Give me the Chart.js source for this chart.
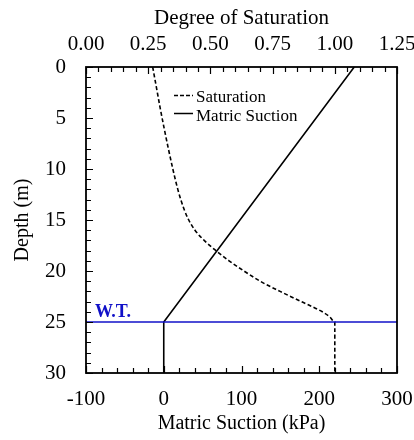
<!DOCTYPE html>
<html><head><meta charset="utf-8">
<script src="https://cdn.jsdelivr.net/npm/chart.js@4/dist/chart.umd.min.js"></script>
<style>html,body{margin:0;padding:0;background:#fff}#wrap{width:414px;height:440px}</style>
</head><body><div id="wrap"><canvas id="c" width="414" height="440"></canvas></div>
<script>
// ---- data ----
const depthSaturation = [0, 2, 4, 6, 8, 10, 12, 13, 14, 15, 16, 17, 18, 19, 20, 21, 22, 23, 24, 24.5, 25, 30];
const saturation      = [0.268, 0.283, 0.298, 0.314, 0.331, 0.349, 0.369, 0.381, 0.395, 0.413, 0.438, 0.475, 0.522, 0.575, 0.635, 0.70, 0.78, 0.865, 0.95, 0.98, 1.0, 1.0];
const depthSuction = [0, 25, 30];
const suction      = [245, 0, 0];
const waterTableDepth = 25;
const waterTableSpan = [-100, 300];
const suctionTicks    = [-100, 0, 100, 200, 300];
const saturationTicks = [0, 0.25, 0.5, 0.75, 1.0, 1.25];
const depthTicks      = [0, 5, 10, 15, 20, 25, 30];
const seriesNames = ['Saturation', 'Matric Suction'];
const waterTableLabel = 'W.T.';

const FONT = "'Liberation Serif', 'Times New Roman', serif";
Chart.defaults.font.family = FONT;
Chart.defaults.color = '#000';

const toPts = (xs, ys) => xs.map((x, i) => ({x: x, y: ys[i]}));

const decor = {
  id: 'decor',
  afterDatasetsDraw(chart) {
    const ctx = chart.ctx, a = chart.chartArea;
    const sx = chart.scales.x, st = chart.scales.x2, sy = chart.scales.y;
    ctx.save();
    ctx.strokeStyle = '#000';
    ctx.lineWidth = 1.2;
    const tick = (fn, min, max, step, majors) => {
      for (let v = min; v <= max + 1e-9; v += step) {
        const isMajor = majors.some(m => Math.abs(m - v) < 1e-6);
        fn(v, isMajor ? 7 : 5);
      }
    };
    ctx.beginPath();
    tick((v, L) => { const p = Math.round(sx.getPixelForValue(v)) + 0.5; ctx.moveTo(p, a.bottom); ctx.lineTo(p, a.bottom - L); }, -100, 300, 20, suctionTicks);
    tick((v, L) => { const p = Math.round(st.getPixelForValue(v)) + 0.5; ctx.moveTo(p, a.top); ctx.lineTo(p, a.top + L); }, 0, 1.25, 0.05, saturationTicks);
    tick((v, L) => { const p = Math.round(sy.getPixelForValue(v)) + 0.5; ctx.moveTo(a.left, p); ctx.lineTo(a.left + L, p); }, 0, 30, 1, depthTicks);
    ctx.stroke();
    ctx.lineWidth = 1.8;
    ctx.strokeRect(a.left, a.top, a.right - a.left, a.bottom - a.top);
    // legend
    ctx.lineWidth = 1.5;
    ctx.font = '17px ' + FONT;
    ctx.fillStyle = '#000';
    ctx.textBaseline = 'middle';
    ctx.setLineDash([4, 2]);
    ctx.beginPath(); ctx.moveTo(174, 95.5); ctx.lineTo(193, 95.5); ctx.stroke();
    ctx.setLineDash([]);
    ctx.beginPath(); ctx.moveTo(174, 113.5); ctx.lineTo(193, 113.5); ctx.stroke();
    ctx.fillText(seriesNames[0], 196, 98);
    ctx.fillText(seriesNames[1], 196, 117);
    // W.T. label
    ctx.fillStyle = '#1010c8';
    ctx.font = 'bold 18px ' + FONT;
    ctx.textBaseline = 'alphabetic';
    ctx.fillText(waterTableLabel, 95, sy.getPixelForValue(waterTableDepth) - 5);
    ctx.restore();
  }
};

const noPad = s => { s.paddingLeft = 0; s.paddingRight = 0; };

new Chart(document.getElementById('c'), {
  type: 'scatter',
  data: {
    datasets: [
      { label: 'W.T.', data: toPts(waterTableSpan, [waterTableDepth, waterTableDepth]), xAxisID: 'x', yAxisID: 'y',
        showLine: true, borderColor: '#1010c8', borderWidth: 1.6, pointRadius: 0, fill: false },
      { label: seriesNames[0], data: toPts(saturation, depthSaturation), xAxisID: 'x2', yAxisID: 'y',
        showLine: true, borderColor: '#000', borderWidth: 1.6, borderDash: [4, 2.5], pointRadius: 0, cubicInterpolationMode: 'monotone', fill: false },
      { label: seriesNames[1], data: toPts(suction, depthSuction), xAxisID: 'x', yAxisID: 'y',
        showLine: true, borderColor: '#000', borderWidth: 1.6, pointRadius: 0, fill: false }
    ]
  },
  options: {
    responsive: false, devicePixelRatio: 1, animation: false,
    layout: { padding: { left: 0, right: 17, top: 0, bottom: 0 } },
    plugins: { legend: { display: false }, tooltip: { enabled: false } },
    scales: {
      x: {
        type: 'linear', position: 'bottom', min: -100, max: 300,
        afterBuildTicks: s => { s.ticks = suctionTicks.map(v => ({value: v})); },
        afterFit: s => { s.height = 67; noPad(s); },
        grid: { display: false, drawTicks: false }, border: { display: false },
        ticks: { padding: 14, font: { size: 21 }, color: '#000', maxRotation: 0 },
        title: { display: true, text: 'Matric Suction (kPa)', font: { size: 20 }, color: '#000', padding: { top: 0, bottom: 4 } }
      },
      x2: {
        type: 'linear', position: 'top', min: 0, max: 1.25,
        afterBuildTicks: s => { s.ticks = saturationTicks.map(v => ({value: v})); },
        afterFit: s => { s.height = 67; noPad(s); },
        grid: { display: false, drawTicks: false }, border: { display: false },
        ticks: { padding: 10, font: { size: 21 }, color: '#000', maxRotation: 0, callback: v => Number(v).toFixed(2) },
        title: { display: true, text: 'Degree of Saturation', font: { size: 21 }, color: '#000', padding: { top: 6, bottom: 0 } }
      },
      y: {
        type: 'linear', position: 'left', reverse: true, min: 0, max: 30,
        afterBuildTicks: s => { s.ticks = depthTicks.map(v => ({value: v})); },
        afterFit: s => { s.width = 86; },
        grid: { display: false, drawTicks: false }, border: { display: false },
        ticks: { padding: 20, font: { size: 21 }, color: '#000' },
        title: { display: true, text: 'Depth (m)', font: { size: 20 }, color: '#000', padding: { top: 11, bottom: 0 } }
      }
    }
  },
  plugins: [decor]
});
</script>
</body></html>
